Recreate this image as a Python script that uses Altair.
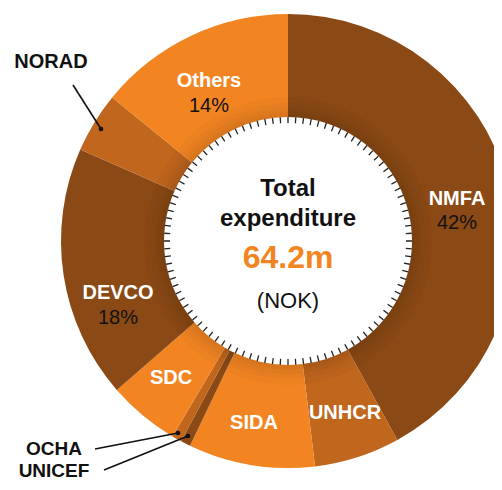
import altair as alt
import pandas as pd

# ---- data ----
names = ["NMFA", "UNHCR", "SIDA", "UNICEF", "OCHA", "SDC", "DEVCO", "NORAD", "Others"]
shares = [42.0, 6.1, 9.0, 0.7, 0.7, 5.1, 18.0, 4.3, 14.1]
tones = ["dark", "mid", "light", "dark", "mid", "light", "dark", "mid", "light"]

tone_domain = ["dark", "mid", "light"]
tone_range = ["#8B4915", "#C0661D", "#F28522"]

# slice labels (inside ring)
lab_names = ["NMFA", "Others", "DEVCO", "SDC", "SIDA", "UNHCR"]
lab_x = [449, 201, 110, 163, 246, 337]
lab_y = [197, 79, 291, 376, 421, 411]
pct_text = ["42%", "14%", "18%"]
pct_x = [449, 201, 110]
pct_y = [221, 104, 316]

# outside labels
out_names = ["NORAD", "OCHA", "UNICEF"]
out_x = [43, 46, 46]
out_y = [60, 447, 469]
out_size = [20, 19, 19]

# leader lines (label end -> slice dot)
lead_x = [65, 87, 96]
lead_y = [77, 441, 462]
lead_x2 = [93, 170, 180]
lead_y2 = [121, 425, 428]

CX, CY = 280, 233
R_OUT, R_IN = 227, 124

df = pd.DataFrame({"name": names, "share": shares, "tone": tones, "idx": list(range(len(names)))})

donut = alt.Chart(df).mark_arc(radius=R_OUT, radius2=R_IN).encode(
    x=alt.value(CX), y=alt.value(CY),
    theta=alt.Theta("share:Q", stack=True),
    order=alt.Order("idx:Q"),
    color=alt.Color("tone:N", scale=alt.Scale(domain=tone_domain, range=tone_range), legend=None),
)

# inner shadow rings
shadow_layers = []
for w in [2, 5, 9, 14, 20]:
    shadow_layers.append(
        alt.Chart(pd.DataFrame({"a": [0]})).mark_arc(
            radius=R_IN + w, radius2=R_IN, color="black", opacity=0.025
        ).encode(x=alt.value(CX), y=alt.value(CY), theta=alt.value(0), theta2=alt.value(6.2832))
    )

# tick marks around inner circle (100 ticks, 1 per percent)
tick_vals, tick_kind = [], []
TW = 0.17
tick_vals.append(TW / 2); tick_kind.append("tick")
for i in range(99):
    tick_vals.append(1 - TW); tick_kind.append("gap")
    tick_vals.append(TW); tick_kind.append("tick")
tick_vals.append(1 - TW); tick_kind.append("gap")
tick_vals.append(TW / 2); tick_kind.append("tick")
ticks_df = pd.DataFrame({"v": tick_vals, "kind": tick_kind, "i": list(range(len(tick_vals)))})

ticks = alt.Chart(ticks_df).mark_arc(radius=R_IN, radius2=R_IN - 6).encode(
    x=alt.value(CX), y=alt.value(CY),
    theta=alt.Theta("v:Q", stack=True),
    order=alt.Order("i:Q"),
    color=alt.Color("kind:N", scale=alt.Scale(domain=["tick", "gap"], range=["#222222", "#ffffff"]), legend=None),
    opacity=alt.Opacity("kind:N", scale=alt.Scale(domain=["tick", "gap"], range=[1, 0]), legend=None),
)

FONT = "Liberation Sans"

lab_df = pd.DataFrame({"t": lab_names, "x": lab_x, "y": lab_y})
slice_labels = alt.Chart(lab_df).mark_text(
    font=FONT, fontSize=20, fontWeight="bold", color="white", baseline="alphabetic", align="center"
).encode(x=alt.X("x:Q", scale=None), y=alt.Y("y:Q", scale=None), text="t:N")

pct_df = pd.DataFrame({"t": pct_text, "x": pct_x, "y": pct_y})
pct_labels = alt.Chart(pct_df).mark_text(
    font=FONT, fontSize=20, color="#111111", baseline="alphabetic", align="center"
).encode(x=alt.X("x:Q", scale=None), y=alt.Y("y:Q", scale=None), text="t:N")

out_df = pd.DataFrame({"t": out_names, "x": out_x, "y": out_y, "s": out_size})
out_labels = alt.Chart(out_df).mark_text(
    font=FONT, fontWeight="bold", color="#111111", baseline="alphabetic", align="center"
).encode(x=alt.X("x:Q", scale=None), y=alt.Y("y:Q", scale=None), text="t:N",
         size=alt.Size("s:Q", scale=None, legend=None))

lead_df = pd.DataFrame({"x": lead_x, "y": lead_y, "x2": lead_x2, "y2": lead_y2})
leaders = alt.Chart(lead_df).mark_rule(color="#111111", strokeWidth=1.6).encode(
    x=alt.X("x:Q", scale=None), y=alt.Y("y:Q", scale=None), x2="x2:Q", y2="y2:Q"
)
dots = alt.Chart(lead_df).mark_point(filled=True, size=22, color="#111111", opacity=1).encode(
    x=alt.X("x2:Q", scale=None), y=alt.Y("y2:Q", scale=None)
)

center_df = pd.DataFrame({
    "t": ["Total", "expenditure"], "x": [CX, CX], "y": [188, 218]
})
center_bold = alt.Chart(center_df).mark_text(
    font=FONT, fontSize=24, fontWeight="bold", color="#111111", baseline="alphabetic", align="center"
).encode(x=alt.X("x:Q", scale=None), y=alt.Y("y:Q", scale=None), text="t:N")

total_df = pd.DataFrame({"t": ["64.2m"], "x": [CX], "y": [260]})
total_txt = alt.Chart(total_df).mark_text(
    font=FONT, fontSize=32, fontWeight="bold", color="#F28522", baseline="alphabetic", align="center"
).encode(x=alt.X("x:Q", scale=None), y=alt.Y("y:Q", scale=None), text="t:N")

unit_df = pd.DataFrame({"t": ["(NOK)"], "x": [CX], "y": [300]})
unit_txt = alt.Chart(unit_df).mark_text(
    font=FONT, fontSize=22, color="#111111", baseline="alphabetic", align="center"
).encode(x=alt.X("x:Q", scale=None), y=alt.Y("y:Q", scale=None), text="t:N")

chart = alt.layer(
    donut, *shadow_layers, ticks, slice_labels, pct_labels, out_labels, leaders, dots,
    center_bold, total_txt, unit_txt
).resolve_scale(theta="independent", color="independent", opacity="independent").properties(
    width=486, height=474, autosize=alt.AutoSizeParams(type="none"), padding=0
).configure_view(stroke=None)

chart.save("out.html", embed_options={"renderer": "svg", "actions": False})
